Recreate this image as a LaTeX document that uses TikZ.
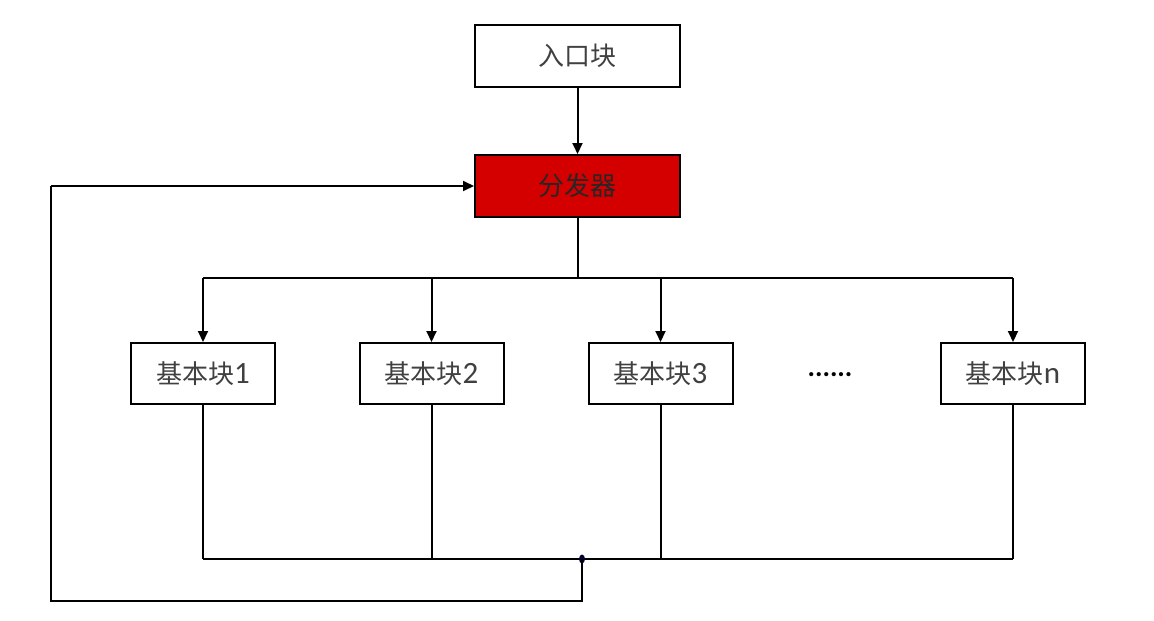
\documentclass[tikz,border=0pt]{standalone}
\usepackage{fontspec}
\setmainfont{Carlito}
\newfontfamily\cjk{Noto Sans CJK SC}
\usetikzlibrary{arrows.meta}
\definecolor{dispred}{HTML}{D40000}
\definecolor{txtgray}{HTML}{404040}
\newcommand{\bnum}[1]{{\fontsize{31}{32}\selectfont #1}}
\begin{document}
\begin{tikzpicture}[x=1pt,y=-1pt,
  box/.style={draw=black,line width=2pt,minimum width=205pt,minimum height=62pt,inner sep=0pt,font=\fontsize{26}{28}\selectfont,text=txtgray},
  bbox/.style={draw=black,line width=2pt,minimum width=144pt,minimum height=61pt,inner sep=0pt,font=\fontsize{26}{28}\selectfont,text=txtgray},
  conn/.style={line width=2pt,draw=black},
  arr/.style={conn,-{Triangle[length=11pt,width=10pt]}}]
\useasboundingbox (0,0) rectangle (1154,621);
\node[box] (entry) at (577.5,56) {\cjk 入口块};
\node[box,fill=dispred,text=black!85] (disp) at (577.5,186) {\cjk 分发器};
\node[bbox] (b1) at (203,373.5) {{\cjk 基本块}\bnum{1}};
\node[bbox] (b2) at (431.5,373.5) {{\cjk 基本块}\bnum{2}};
\node[bbox] (b3) at (660.5,373.5) {{\cjk 基本块}\bnum{3}};
\node[bbox] (bn) at (1013,373.5) {{\cjk 基本块}\bnum{n}};
\node[font=\fontsize{28}{30}\selectfont\bfseries] (dots) at (830,375) {......};
\coordinate (split) at (577.5,278);
\coordinate (s1) at (203,278);
\coordinate (sn) at (1013,278);
\coordinate (m1) at (203,559);
\coordinate (mn) at (1013,559);
\coordinate (join) at (582,559);
\coordinate (low) at (582,601);
\coordinate (lowleft) at (51,601);
\coordinate (upleft) at (51,186);
\draw[arr] (entry) -- (disp);
\draw[conn] (disp) -- (split);
\draw[conn] (s1) -- (sn);
\draw[arr] (s1) -- (b1);
\draw[arr] (b2.north |- split) -- (b2);
\draw[arr] (b3.north |- split) -- (b3);
\draw[arr] (sn) -- (bn);
\draw[conn] (b1) -- (m1);
\draw[conn] (b2) -- (b2.south |- m1);
\draw[conn] (b3) -- (b3.south |- m1);
\draw[conn] (bn) -- (mn);
\draw[conn] (m1) -- (mn);
\fill[black!80!blue] (join) ellipse (3pt and 4.5pt);
\draw[conn] (join) -- (low) -- (lowleft) -- (upleft);
\draw[arr] (upleft) -- (disp.west);
\end{tikzpicture}
\end{document}
